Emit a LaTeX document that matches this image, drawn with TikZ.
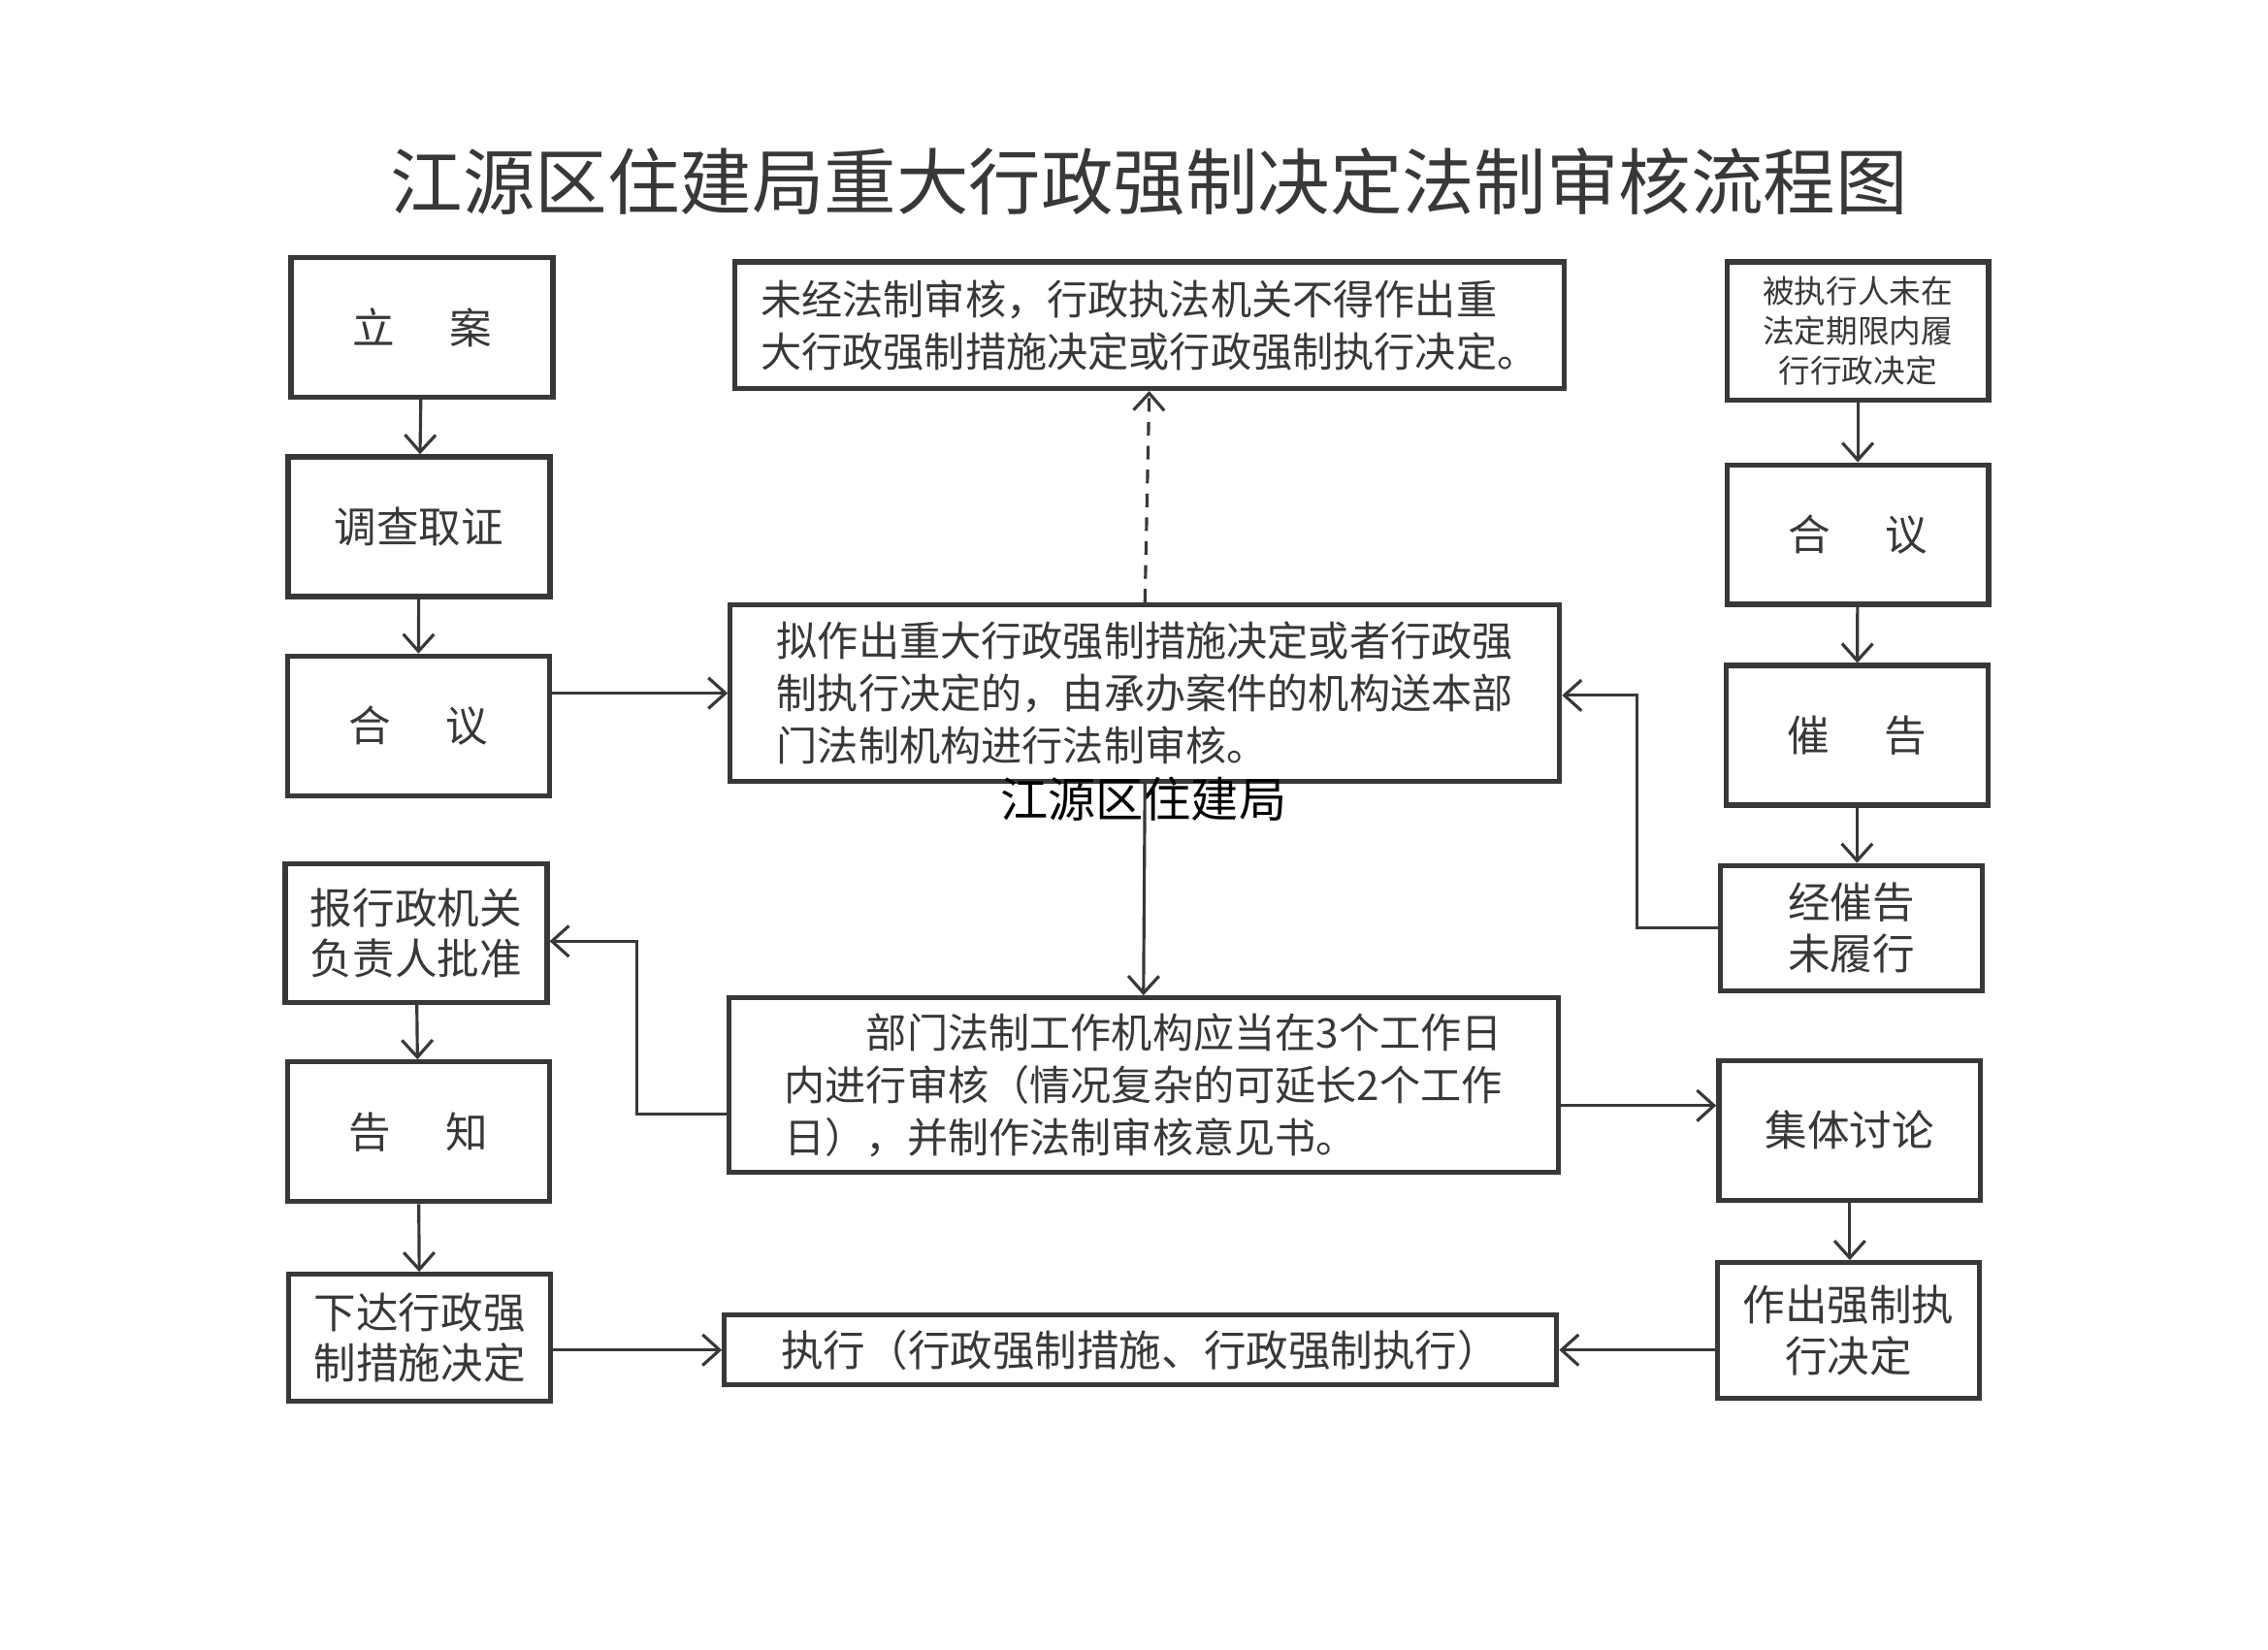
\documentclass[tikz,border=0pt]{standalone}
\usepackage{fontspec}
\setmainfont{Noto Sans CJK SC}
\usetikzlibrary{arrows.meta,positioning}
\definecolor{ink}{rgb}{0.22,0.22,0.22}
\tikzset{
sbox/.style={draw=ink, line width=1.5pt, text=ink, minimum width=2.7cm, minimum height=1.44cm, inner sep=0pt, align=center, font=\fontsize{12.4}{15}\selectfont},
wbox/.style={draw=ink, line width=1.5pt, text=ink, minimum width=8.55cm, inner sep=0pt, align=left, font=\fontsize{12}{15.4}\selectfont},
arr/.style={draw=ink, line width=0.9pt, -{Straight Barb[length=5pt,width=9pt]}},
}
\begin{document}
\begin{tikzpicture}[x=0.015cm,y=-0.015cm]
\useasboundingbox[fill=white] (0,0) rectangle (1559,1134);
\node[text=ink, font=\fontsize{21.2}{24}\selectfont] (title) at (790,125) {江源区住建局重大行政强制决定法制审核流程图};
% left column
\node[sbox] (lian) at (290,225) {立\hspace{1.3em}案};
\node[sbox] (diaocha) at (288,362) {调查取证};
\node[sbox] (heyiL) at (287.5,499) {合\hspace{1.3em}议};
\node[sbox, minimum height=1.425cm] (baopi) at (286,641.5) {报行政机关\\负责人批准};
\node[sbox] (gaozhi) at (287.5,778) {告\hspace{1.3em}知};
\node[sbox, minimum height=1.305cm] (xiada) at (288.5,919.5) {下达行政强\\制措施决定};
% middle column
\node[wbox, minimum height=1.305cm] (weijing) at (790,223.5) {未经法制审核，行政执法机关不得作出重\\大行政强制措施决定或行政强制执行决定。};
\node[wbox, minimum height=1.815cm] (nizuo) at (787,476.5) {拟作出重大行政强制措施决定或者行政强\\制执行决定的，由承办案件的机构送本部\\门法制机构进行法制审核。};
\node[font=\fontsize{14}{16}\selectfont] (stamp) at (786,549) {江源区住建局};
\node[wbox, minimum height=1.8cm] (bumen) at (786,746) {\hspace*{2em}部门法制工作机构应当在3个工作日\\内进行审核（情况复杂的可延长2个工作\\日），并制作法制审核意见书。};
\node[wbox, minimum width=8.58cm, minimum height=0.72cm, align=center, font=\fontsize{12.4}{15}\selectfont] (zhixing) at (784,928) {执行（行政强制措施、行政强制执行）};
% right column
\node[sbox, minimum height=1.425cm, font=\fontsize{9.3}{11.6}\selectfont] (beizhi) at (1277,227.5) {被执行人未在\\法定期限内履\\行行政决定};
\node[sbox] (heyiR) at (1277,367.5) {合\hspace{1.3em}议};
\node[sbox] (cuigao) at (1276.5,505.5) {催\hspace{1.3em}告};
\node[sbox, minimum height=1.29cm] (jingcui) at (1272.5,638) {经催告\\未履行};
\node[sbox] (jiti) at (1271.5,777) {集体讨论};
\node[sbox, minimum height=1.395cm] (zuochu) at (1270.5,914.5) {作出强制执\\行决定};
% connectors
\draw[arr] (lian) -- (diaocha);
\draw[arr] (diaocha) -- (heyiL);
\draw[arr] (heyiL.east |- nizuo.west) -- (nizuo.west);
\draw[arr, dashed, dash pattern=on 4pt off 3pt] (nizuo.north) -- (weijing.south);
\draw[arr] (nizuo.south) -- (bumen.north);
\draw[arr] (bumen.west |- 0,766) -| (438,647) -- (baopi.east |- 0,647);
\draw[arr] (baopi) -- (gaozhi);
\draw[arr] (gaozhi) -- (xiada);
\draw[arr] (xiada.east |- zhixing.west) -- (zhixing.west);
\draw[arr] (bumen.east |- 0,760) -- (jiti.west |- 0,760);
\draw[arr] (beizhi) -- (heyiR);
\draw[arr] (heyiR) -- (cuigao);
\draw[arr] (cuigao.south) -- (cuigao.south |- jingcui.north);
\draw[arr] (jingcui.west) -| (1125,478) -- (nizuo.east |- 0,478);
\draw[arr] (jiti.south) -- (jiti.south |- zuochu.north);
\draw[arr] (zuochu.west |- zhixing.east) -- (zhixing.east);
\end{tikzpicture}
\end{document}
